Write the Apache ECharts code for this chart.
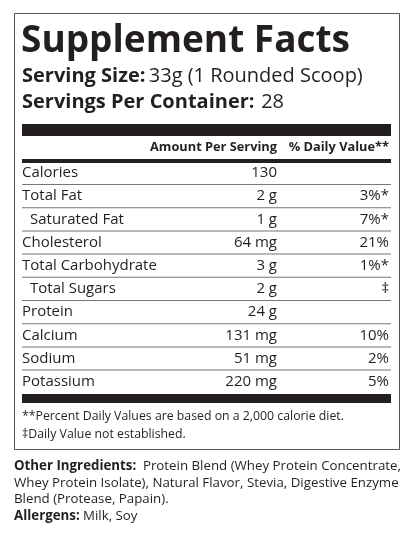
<!DOCTYPE html>
<html><head><meta charset="utf-8">
<script src="https://cdn.jsdelivr.net/npm/echarts@6/dist/echarts.min.js"></script>
<style>html,body{margin:0;padding:0;background:#fff}#c{width:416px;height:538px}</style>
</head><body><div id="c"></div>
<script>
const title = "Supplement Facts";
const servingSize = ["Serving Size:", "33g (1 Rounded Scoop)"];
const servings = ["Servings Per Container:", "28"];
const headers = ["Amount Per Serving", "% Daily Value**"];
const nutrients = ["Calories","Total Fat","Saturated Fat","Cholesterol","Total Carbohydrate","Total Sugars","Protein","Calcium","Sodium","Potassium"];
const indent = [false,false,true,false,false,true,false,false,false,false];
const amounts = ["130","2 g","1 g","64 mg","3 g","2 g","24 g","131 mg","51 mg","220 mg"];
const dailyValues = ["","3%*","7%*","21%","1%*","‡","","10%","2%","5%"];
const footnotes = ["**Percent Daily Values are based on a 2,000 calorie diet.","‡Daily Value not established."];
const otherIngredients = ["Other Ingredients:","Protein Blend (Whey Protein Concentrate,","Whey Protein Isolate), Natural Flavor, Stevia, Digestive Enzyme","Blend (Protease, Papain)."];
const allergens = ["Allergens:","Milk, Soy"];

const F = '"Open Sans", sans-serif';
const C = '#231f20';
const g = [];
function t(x,y,s,size,weight,align){g.push({type:'text',x:x,y:y,style:{text:s,font:(weight||'normal')+' '+size+'px '+F,fill:C,textAlign:align||'left',textVerticalAlign:'middle'}});}
function r(x,y,w,h,fill){g.push({type:'rect',shape:{x:x,y:y,width:w,height:h},style:{fill:fill||C}});}
g.push({type:'rect',shape:{x:14.5,y:13.5,width:385,height:436},style:{fill:'none',stroke:'#555',lineWidth:1}});
g.push({type:'text',x:21,y:41,style:{text:title,font:'bold 37px '+F,fill:C,textVerticalAlign:'middle',letterSpacing:-1}});
g.push({type:'text',x:22,y:76,style:{rich:{b:{font:'bold 20px '+F,fill:C},n:{font:'20px '+F,fill:C}},text:'{b|'+servingSize[0]+'} {n|'+servingSize[1]+'}',textVerticalAlign:'middle'}});
g.push({type:'text',x:22,y:102,style:{rich:{b:{font:'bold 20px '+F,fill:C},n:{font:'20px '+F,fill:C}},text:'{b|'+servings[0]+'}  {n|'+servings[1]+'}',textVerticalAlign:'middle'}});
r(22,124,369,12);
t(277,147,headers[0],12.8,'bold','right');
t(389,147,headers[1],12.8,'bold','right');
r(22,159,369,4);
const rowH=23.2, y0=173;
nutrients.forEach((n,i)=>{
  const y=y0+i*rowH;
  t(indent[i]?30:22,y,n,15,'normal','left');
  t(277,y,amounts[i],15,'normal','right');
  if(dailyValues[i]) t(389,y,dailyValues[i],15,'normal','right');
  if(i<nutrients.length-1) r(22,y+11,369,1,'#777');
});
r(22,394,369,9);
t(22,416,footnotes[0],12.3,'normal','left');
t(22,434,footnotes[1],12.3,'normal','left');
g.push({type:'text',x:14,y:466,style:{rich:{b:{font:'bold 13.3px '+F,fill:C},n:{font:'13.3px '+F,fill:C}},text:'{b|'+otherIngredients[0]+'}  {n|'+otherIngredients[1]+'}',textVerticalAlign:'middle'}});
t(14,483,otherIngredients[2],13.3,'normal','left');
t(14,499,otherIngredients[3],13.3,'normal','left');
g.push({type:'text',x:14,y:516,style:{rich:{b:{font:'bold 13.3px '+F,fill:C},n:{font:'13.3px '+F,fill:C}},text:'{b|'+allergens[0]+'} {n|'+allergens[1]+'}',textVerticalAlign:'middle'}});
const chart=echarts.init(document.getElementById('c'));
chart.setOption({animation:false,graphic:g});
</script></body></html>
